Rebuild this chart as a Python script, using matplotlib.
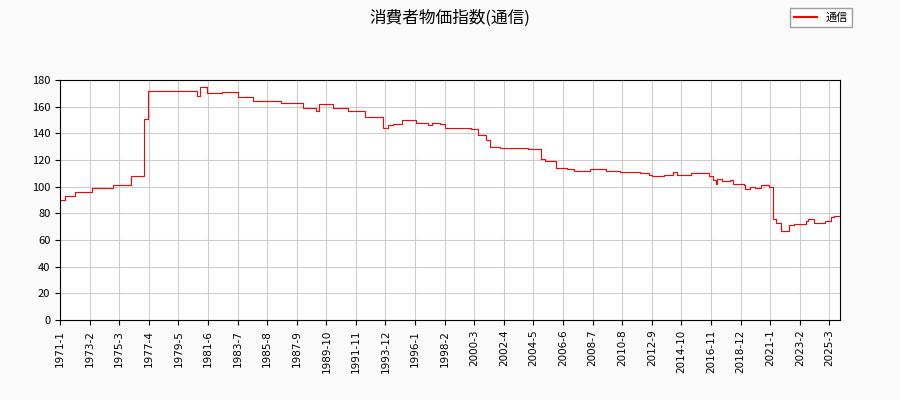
import matplotlib
matplotlib.use("Agg")
import matplotlib.pyplot as plt
from matplotlib.lines import Line2D

plt.rcParams['font.family'] = ['Noto Sans CJK JP', 'DejaVu Sans']

# month index (0 = 1971-1) where value changes, and the new value
change_idx = [0, 4, 13, 27, 45, 60, 71, 74, 116, 118, 121, 124, 127, 137, 150, 163, 187,
              205, 216, 219, 231, 243, 258, 273, 277, 281, 289, 301, 311, 314, 321, 325,
              347, 353, 360, 363, 372, 395, 406, 410, 419, 428, 434, 448, 461, 473, 490,
              498, 500, 510, 518, 521, 524, 533, 548, 552, 554, 555, 559, 566, 569, 578,
              579, 583, 587, 592, 599, 602, 605, 609, 616, 620, 630, 632, 637, 646, 651, 654, 659]
values = [90, 93, 96, 99, 101, 108, 151, 172, 168, 175, 175, 170, 170, 171, 167, 164, 163,
          159, 157, 162, 159, 157, 152, 144, 146, 147, 150, 148, 146, 148, 147, 144,
          143, 139, 135, 130, 129, 128, 121, 119, 114, 113, 112, 113, 112, 111, 110,
          109, 108, 108.5, 111, 109, 109, 110, 108, 105, 102, 106, 104, 105, 102, 101,
          98, 100, 99, 101, 100, 76, 73, 67, 71, 72, 74, 76, 73, 74, 77, 78, 78]

tick_labels = ['1971-1', '1973-2', '1975-3', '1977-4', '1979-5', '1981-6', '1983-7', '1985-8',
               '1987-9', '1989-10', '1991-11', '1993-12', '1996-1', '1998-2', '2000-3',
               '2002-4', '2004-5', '2006-6', '2008-7', '2010-8', '2012-9', '2014-10',
               '2016-11', '2018-12', '2021-1', '2023-2', '2025-3']

fig = plt.figure(figsize=(9, 4), dpi=100, facecolor='#fafafa')
ax = fig.add_axes([60/900, 80/400, 780/900, 240/400])
ax.set_facecolor('white')
ax.plot(change_idx, values, drawstyle='steps-post', color='red', lw=0.8)
ax.set_xlim(0, change_idx[-1])
ax.set_ylim(0, 180)
ax.set_yticks(range(0, 181, 20))
ax.set_xticks(range(0, 25 * len(tick_labels), 25))
ax.set_xticklabels(tick_labels, rotation=90, fontsize=7.5, family='DejaVu Sans')
ax.tick_params(axis='y', labelsize=8)
ax.grid(True, color='#cccccc', lw=0.8)
ax.set_axisbelow(True)
fig.suptitle('消費者物価指数(通信)', x=0.5, y=0.975, fontsize=12)
handle = Line2D([], [], color='red', lw=1.5)
fig.legend([handle], ['通信'], loc='upper right', bbox_to_anchor=(0.953, 0.995), fontsize=8,
           frameon=True, fancybox=False, edgecolor='#888888')
fig.savefig('out.png', dpi=100, facecolor=fig.get_facecolor())
